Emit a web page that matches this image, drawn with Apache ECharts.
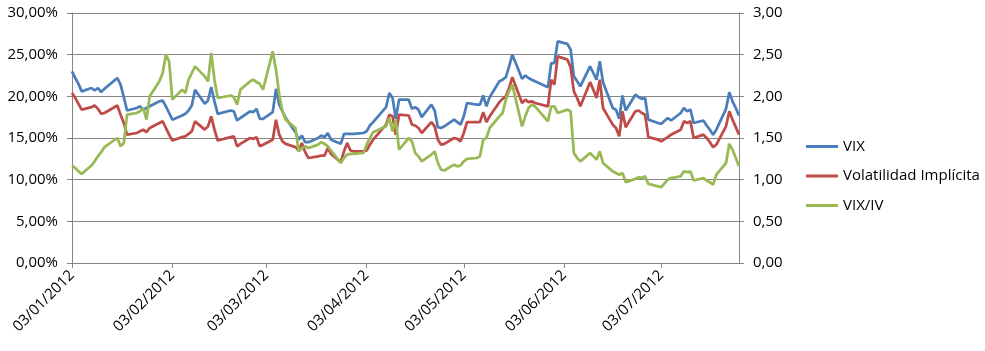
<!DOCTYPE html>
<html><head><meta charset="utf-8">
<script src="https://cdn.jsdelivr.net/npm/echarts@6/dist/echarts.min.js"></script>
<style>html,body{margin:0;padding:0;background:#fff}#c{width:985px;height:351px}</style>
</head><body><div id="c"></div>
<script>
// Trading days (dd/mm/yyyy)
const dates = [
'03/01/2012','04/01/2012','05/01/2012','06/01/2012','09/01/2012','10/01/2012','11/01/2012','12/01/2012','13/01/2012','17/01/2012','18/01/2012','19/01/2012','20/01/2012','23/01/2012','24/01/2012','25/01/2012','26/01/2012','27/01/2012','30/01/2012','31/01/2012',
'01/02/2012','02/02/2012','03/02/2012','06/02/2012','07/02/2012','08/02/2012','09/02/2012','10/02/2012','13/02/2012','14/02/2012','15/02/2012','16/02/2012','17/02/2012','21/02/2012','22/02/2012','23/02/2012','24/02/2012','27/02/2012','28/02/2012','29/02/2012',
'01/03/2012','02/03/2012','05/03/2012','06/03/2012','07/03/2012','08/03/2012','09/03/2012','12/03/2012','13/03/2012','14/03/2012','15/03/2012','16/03/2012','19/03/2012','20/03/2012','21/03/2012','22/03/2012','23/03/2012','26/03/2012','27/03/2012','28/03/2012','29/03/2012','30/03/2012',
'02/04/2012','03/04/2012','04/04/2012','05/04/2012','09/04/2012','10/04/2012','11/04/2012','12/04/2012','13/04/2012','16/04/2012','17/04/2012','18/04/2012','19/04/2012','20/04/2012','23/04/2012','24/04/2012','25/04/2012','26/04/2012','27/04/2012','30/04/2012',
'01/05/2012','02/05/2012','03/05/2012','04/05/2012','07/05/2012','08/05/2012','09/05/2012','10/05/2012','11/05/2012','14/05/2012','15/05/2012','16/05/2012','17/05/2012','18/05/2012','21/05/2012','22/05/2012','23/05/2012','24/05/2012','25/05/2012','29/05/2012','30/05/2012','31/05/2012',
'01/06/2012','04/06/2012','05/06/2012','06/06/2012','07/06/2012','08/06/2012','11/06/2012','12/06/2012','13/06/2012','14/06/2012','15/06/2012','18/06/2012','19/06/2012','20/06/2012','21/06/2012','22/06/2012','25/06/2012','26/06/2012','27/06/2012','28/06/2012','29/06/2012',
'02/07/2012','03/07/2012','05/07/2012','06/07/2012','09/07/2012','10/07/2012','11/07/2012','12/07/2012','13/07/2012','16/07/2012','17/07/2012','18/07/2012','19/07/2012','20/07/2012','23/07/2012','24/07/2012','25/07/2012','26/07/2012','27/07/2012'
];
// VIX (%)
const vix = [
23.0,22.2,21.5,20.6,21.0,20.7,21.0,20.5,20.9,22.2,21.4,19.9,18.3,18.6,18.8,18.4,18.6,18.8,19.4,19.5,
18.8,18.0,17.2,17.7,17.9,18.3,18.9,20.8,19.1,19.5,21.1,19.4,17.9,18.3,18.2,17.1,17.4,18.2,18.1,18.5,
17.3,17.3,18.1,20.9,19.0,18.2,17.4,15.7,14.8,15.3,14.5,14.5,15.0,15.3,15.1,15.6,14.8,14.3,15.5,15.5,15.5,15.5,
15.6,15.8,16.5,16.9,18.7,20.4,19.8,17.3,19.6,19.6,18.5,18.7,18.4,17.5,19.0,18.3,16.3,16.2,16.4,17.2,
16.9,16.6,17.6,19.2,19.0,19.0,20.1,18.8,19.9,21.8,22.0,22.3,23.6,25.0,22.1,22.5,22.2,22.0,21.8,21.1,24.0,24.0,
26.6,26.3,25.6,22.4,21.8,21.2,23.6,22.8,22.0,24.2,21.7,18.6,18.4,17.3,20.1,18.3,20.2,19.9,19.7,19.8,17.2,
16.8,16.7,17.4,17.1,18.0,18.6,18.2,18.4,16.8,17.1,16.5,16.0,15.4,16.0,18.5,20.5,19.4,18.6,17.7
];
// Volatilidad Implícita (%)
const iv = [
20.4,19.8,19.1,18.4,18.7,18.9,18.5,17.9,18.0,18.9,17.8,16.8,15.4,15.6,15.8,16.0,15.7,16.2,16.8,17.0,
16.2,15.4,14.7,15.1,15.2,15.5,15.8,17.0,16.0,16.4,17.6,16.0,14.7,15.1,15.2,14.0,14.3,15.0,14.9,15.1,
14.0,14.2,14.8,17.2,15.4,14.6,14.3,13.9,13.5,14.4,13.3,12.6,12.8,12.9,12.9,13.8,13.1,12.1,13.4,14.4,13.5,13.4,
13.4,13.5,14.2,14.8,16.6,17.8,17.6,15.4,17.8,17.7,16.6,16.5,16.2,15.6,16.9,16.4,14.8,14.2,14.3,15.0,
14.9,14.6,15.6,16.9,16.9,16.9,18.1,16.9,17.6,19.3,19.7,20.0,21.0,22.3,19.2,19.6,19.3,19.4,19.2,18.8,22.0,21.4,
24.8,24.4,23.5,20.6,19.8,18.8,21.7,20.8,19.8,22.0,18.6,16.6,16.2,15.2,18.2,16.3,18.2,18.3,18.0,17.8,15.1,
14.8,14.6,15.1,15.4,16.0,17.0,16.8,17.0,15.0,15.4,15.0,14.5,13.9,14.2,16.4,18.2,17.2,16.3,15.4
];
// VIX/IV (right axis)
const vixIv = [
1.17,1.14,1.10,1.07,1.17,1.22,1.28,1.33,1.39,1.50,1.40,1.44,1.78,1.80,1.82,1.86,1.72,2.00,2.18,2.28,
2.50,2.42,1.96,2.08,2.04,2.20,2.28,2.36,2.24,2.18,2.52,2.20,1.98,2.01,1.99,1.90,2.08,2.18,2.20,2.17,
2.15,2.08,2.54,2.32,2.02,1.82,1.72,1.62,1.34,1.38,1.40,1.38,1.42,1.45,1.43,1.40,1.35,1.20,1.26,1.30,1.31,1.31,
1.32,1.42,1.50,1.57,1.64,1.74,1.58,1.72,1.36,1.50,1.46,1.32,1.28,1.22,1.30,1.34,1.20,1.12,1.11,1.18,
1.16,1.17,1.22,1.25,1.26,1.28,1.48,1.50,1.62,1.76,1.80,1.96,2.06,2.14,1.64,1.76,1.86,1.90,1.88,1.70,1.88,1.88,
1.80,1.84,1.82,1.32,1.26,1.22,1.32,1.28,1.24,1.34,1.20,1.10,1.08,1.06,1.08,0.97,1.01,1.03,1.02,1.04,0.95,
0.92,0.91,1.00,1.02,1.04,1.10,1.09,1.10,0.99,1.02,0.99,0.97,0.94,1.06,1.20,1.43,1.36,1.26,1.16
];
const seriesNames = ['VIX', 'Volatilidad Implícita', 'VIX/IV'];
const axisStart = '03/01/2012', axisEnd = '27/07/2012';

function parse(s){const [d,m,y]=s.split('/').map(Number);return Date.UTC(y,m-1,d);}
function fmt(t){const d=new Date(t);return String(d.getUTCDate()).padStart(2,'0')+'/'+String(d.getUTCMonth()+1).padStart(2,'0')+'/'+d.getUTCFullYear();}
const cats=[];
for(let t=parse(axisStart);t<=parse(axisEnd);t+=86400000)cats.push(fmt(t));
function align(vals){const m={};dates.forEach((d,i)=>{m[d]=vals[i];});return cats.map(c=>(c in m)?m[c]:null);}

const FONT='Open Sans';
const gridColor='#868686';
const isTick=(i,v)=>String(v).slice(0,3)==='03/';
const chart=echarts.init(document.getElementById('c'),null,{renderer:'canvas'});
chart.setOption({
  animation:false,
  backgroundColor:'#ffffff',
  textStyle:{fontFamily:FONT},
  grid:{left:72,right:246,top:13,bottom:88,containLabel:false},
  legend:{
    orient:'vertical',left:801,top:134,itemWidth:32,itemHeight:3,itemGap:14.5,icon:'rect',
    textStyle:{fontFamily:FONT,fontSize:15,color:'#000'},
    data:seriesNames
  },
  xAxis:{
    type:'category',data:cats,boundaryGap:false,
    axisLine:{lineStyle:{color:gridColor,width:1}},
    axisTick:{interval:isTick,length:5,lineStyle:{color:gridColor}},
    axisLabel:{interval:isTick,rotate:45,margin:10,fontFamily:FONT,fontSize:15,color:'#000'},
    splitLine:{show:false}
  },
  yAxis:[
    {type:'value',min:0,max:30,interval:5,
     axisLine:{show:true,lineStyle:{color:gridColor}},
     axisTick:{show:true,length:5,lineStyle:{color:gridColor}},
     axisLabel:{margin:14,fontFamily:FONT,fontSize:15,color:'#000',formatter:v=>v.toFixed(2).replace('.',',')+'%'},
     splitLine:{show:true,lineStyle:{color:gridColor,width:1}}},
    {type:'value',min:0,max:3,interval:0.5,position:'right',
     axisLine:{show:true,lineStyle:{color:gridColor}},
     axisTick:{show:true,length:5,lineStyle:{color:gridColor}},
     axisLabel:{margin:14,fontFamily:FONT,fontSize:15,color:'#000',formatter:v=>v.toFixed(2).replace('.',',')},
     splitLine:{show:false}}
  ],
  series:[
    {name:seriesNames[0],type:'line',yAxisIndex:0,data:align(vix),connectNulls:true,showSymbol:false,symbol:'none',
     lineStyle:{color:'#4A7EBB',width:2.75},itemStyle:{color:'#4A7EBB'}},
    {name:seriesNames[1],type:'line',yAxisIndex:0,data:align(iv),connectNulls:true,showSymbol:false,symbol:'none',
     lineStyle:{color:'#BE4B48',width:2.75},itemStyle:{color:'#BE4B48'}},
    {name:seriesNames[2],type:'line',yAxisIndex:1,data:align(vixIv),connectNulls:true,showSymbol:false,symbol:'none',
     lineStyle:{color:'#98B954',width:2.75},itemStyle:{color:'#98B954'}}
  ]
});
</script></body></html>
